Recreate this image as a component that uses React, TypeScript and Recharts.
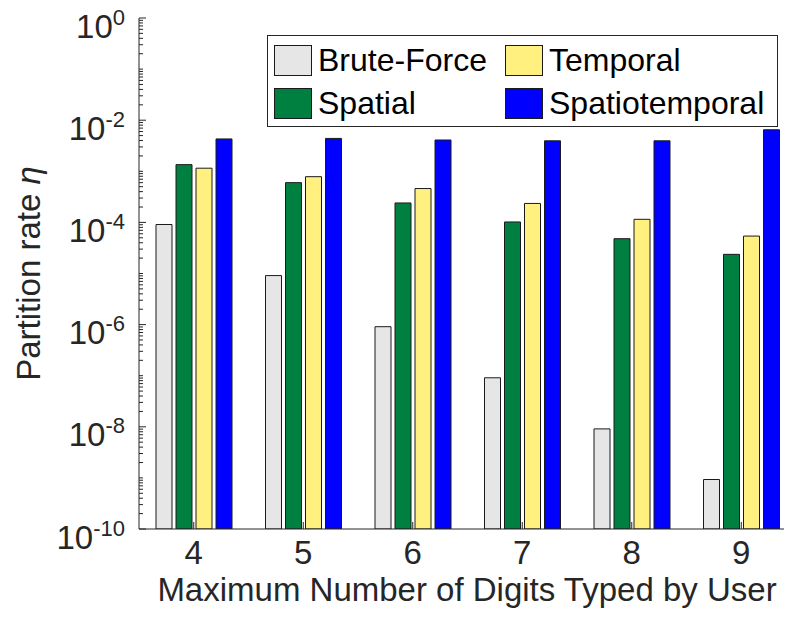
import { BarChart, Bar, XAxis, YAxis, Label } from "recharts";

// maximum number of digits typed
const digitCounts = ["4", "5", "6", "7", "8", "9"];

// partition rate per method
const bruteForce = [9.1e-5, 9.1e-6, 9.1e-7, 9.1e-8, 9.1e-9, 9.3e-10];
const spatial = [1.35e-3, 6.0e-4, 2.4e-4, 1.02e-4, 4.8e-5, 2.37e-5];
const temporal = [1.15e-3, 7.85e-4, 4.6e-4, 2.35e-4, 1.15e-4, 5.4e-5];
const spatiotemporal = [4.3e-3, 4.4e-3, 4.1e-3, 3.95e-3, 3.95e-3, 6.5e-3];

const seriesKeys = ["bruteForce", "spatial", "temporal", "spatiotemporal"];
const seriesNames = ["Brute-Force", "Spatial", "Temporal", "Spatiotemporal"];
const seriesColors = ["#e6e6e6", "#008040", "#fff080", "#0000ff"];

const yMajorTicks = [1e-10, 1e-8, 1e-6, 1e-4, 1e-2, 1];
const yTickExponents = ["-10", "-8", "-6", "-4", "-2", "0"];

const data = digitCounts.map((d, i) => ({
  digits: d,
  bruteForce: bruteForce[i],
  spatial: spatial[i],
  temporal: temporal[i],
  spatiotemporal: spatiotemporal[i],
}));

// every decade gets minor ticks at 2..9, plus the odd decades
const yAllTicks: number[] = [];
for (let e = -10; e <= 0; e++) {
  for (let m = 1; m <= 9; m++) {
    if (e === 0 && m > 1) break;
    yAllTicks.push(m * Math.pow(10, e));
  }
}

const FONT = "'Liberation Sans', Arial, Helvetica, sans-serif";
const AXIS = "#262626";

function majorIndex(v: number) {
  const lg = Math.log10(v);
  const r = Math.round(lg);
  if (Math.abs(lg - r) > 1e-6) return -1;
  return yMajorTicks.findIndex((t) => Math.abs(Math.log10(t) - r) < 1e-6);
}

const LeftTick = (props: any) => {
  const { x, y, payload } = props;
  const idx = majorIndex(payload.value);
  const len = idx >= 0 ? 7 : 4;
  return (
    <g>
      <line x1={x} y1={y} x2={x + len} y2={y} stroke={AXIS} strokeWidth={1} />
      {idx >= 0 && (
        <text x={x - 14} y={y + 19.5} textAnchor="end" fontFamily={FONT} fontSize={33} fill={AXIS}>
          <tspan>10</tspan>
          <tspan dy={-13} fontSize={22}>{yTickExponents[idx]}</tspan>
        </text>
      )}
    </g>
  );
};

const RightTick = (props: any) => {
  const { x, y, payload } = props;
  const len = majorIndex(payload.value) >= 0 ? 8 : 4;
  return <line x1={x} y1={y} x2={x - len} y2={y} stroke={AXIS} strokeWidth={1} />;
};

const BottomTick = (props: any) => {
  const { x, y, payload } = props;
  return (
    <g>
      <line x1={x} y1={y} x2={x} y2={y - 7} stroke={AXIS} strokeWidth={1} />
      <text x={x} y={y + 35} textAnchor="middle" fontFamily={FONT} fontSize={33} fill={AXIS}>
        {payload.value}
      </text>
    </g>
  );
};

const TopTick = (props: any) => {
  const { x, y } = props;
  return <line x1={x} y1={y} x2={x} y2={y + 7} stroke={AXIS} strokeWidth={1} />;
};

const YTitle = (props: any) => {
  const { viewBox } = props;
  const cy = viewBox.y + viewBox.height / 2;
  return (
    <text
      x={40}
      y={cy}
      transform={`rotate(-90, 40, ${cy})`}
      textAnchor="middle"
      fontFamily={FONT}
      fontSize={33}
      fill={AXIS}
    >
      Partition rate <tspan fontStyle="italic">η</tspan>
    </text>
  );
};

const XTitle = (props: any) => {
  const { viewBox } = props;
  return (
    <text
      x={467}
      y={viewBox.y + 72}
      textAnchor="middle"
      fontFamily={FONT}
      fontSize={33}
      fill={AXIS}
    >
      Maximum Number of Digits Typed by User
    </text>
  );
};

function ChartLegend() {
  return (
    <div
      style={{
        position: "absolute",
        left: 267,
        top: 35,
        width: 511,
        height: 92,
        border: `1px solid ${AXIS}`,
        background: "#fff",
        boxSizing: "border-box",
        fontFamily: FONT,
        fontSize: 32,
        color: "#000",
      }}
    >
      {seriesNames.map((name, i) => {
        const col = i < 2 ? 0 : 1;
        const row = i % 2;
        return (
          <div
            key={name}
            style={{
              position: "absolute",
              left: 6 + col * 231,
              top: 8 + row * 43,
              display: "flex",
              alignItems: "center",
              height: 32,
              whiteSpace: "nowrap",
            }}
          >
            <div
              style={{
                width: 38,
                height: 31,
                boxSizing: "border-box",
                background: seriesColors[i],
                border: "1px solid #1a1a1a",
                marginRight: 6,
              }}
            />
            <span style={{ lineHeight: "32px" }}>{name}</span>
          </div>
        );
      })}
    </div>
  );
}

export default function App() {
  return (
    <div style={{ position: "relative", width: 792, height: 629, margin: -8, overflow: "hidden", background: "#fff" }}>
      <BarChart
        width={806}
        height={629}
        data={data}
        margin={{ top: 18, right: 0, bottom: 0, left: 0 }}
        barSize={16}
        barGap={4}
      >
        <XAxis
          dataKey="digits"
          xAxisId={0}
          height={100}
          stroke={AXIS}
          tickLine={false}
          tickSize={0}
          tickMargin={0}
          tick={<BottomTick />}
          interval={0}
        >
          <Label content={<XTitle />} />
        </XAxis>
        <XAxis
          dataKey="digits"
          xAxisId="top"
          orientation="top"
          height={0}
          stroke={AXIS}
          tickLine={false}
          tickSize={0}
          tickMargin={0}
          tick={<TopTick />}
          interval={0}
        />
        <YAxis
          yAxisId={0}
          scale="log"
          domain={[1e-10, 1]}
          allowDataOverflow
          ticks={yAllTicks}
          interval={0}
          width={139}
          stroke={AXIS}
          tickLine={false}
          tickSize={0}
          tickMargin={0}
          tick={<LeftTick />}
        >
          <Label content={<YTitle />} />
        </YAxis>
        <YAxis
          yAxisId="right"
          orientation="right"
          scale="log"
          domain={[1e-10, 1]}
          allowDataOverflow
          ticks={yAllTicks}
          interval={0}
          width={10}
          stroke={AXIS}
          tickLine={false}
          tickSize={0}
          tickMargin={0}
          tick={<RightTick />}
        />
        {seriesKeys.map((k, i) => (
          <Bar
            key={k}
            dataKey={k}
            name={seriesNames[i]}
            xAxisId={0}
            yAxisId={0}
            fill={seriesColors[i]}
            stroke="#1a1a1a"
            strokeWidth={1}
            isAnimationActive={false}
          />
        ))}
      </BarChart>
      <ChartLegend />
    </div>
  );
}
